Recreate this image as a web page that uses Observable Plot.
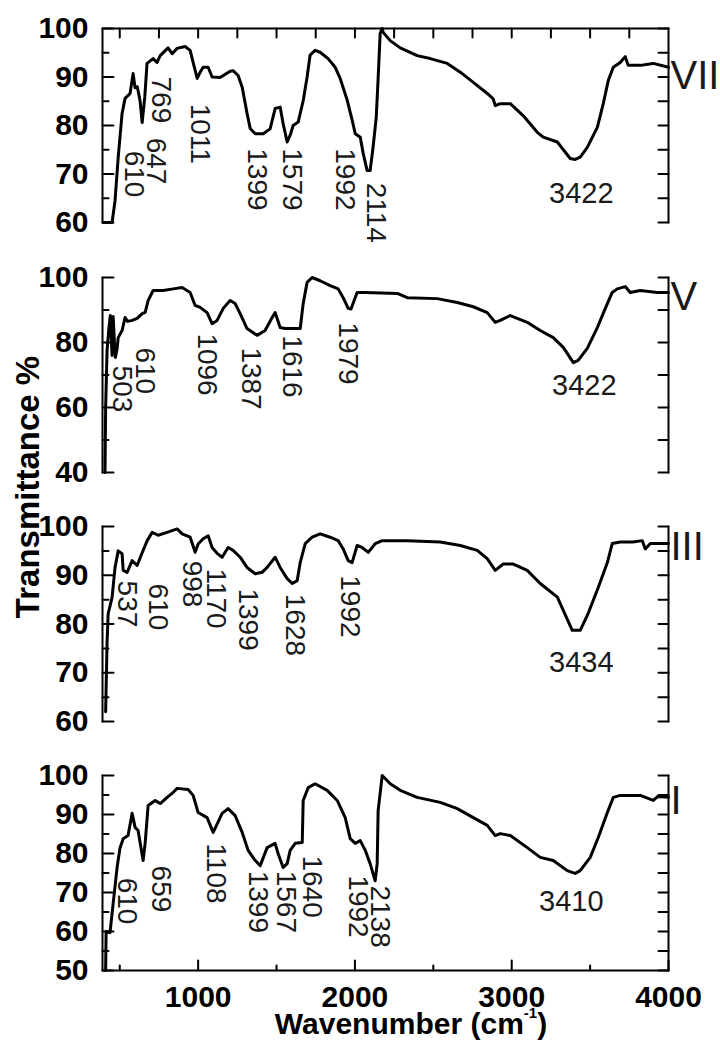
<!DOCTYPE html>
<html><head><meta charset="utf-8">
<script src="https://cdn.jsdelivr.net/npm/d3@7"></script>
<script src="https://cdn.jsdelivr.net/npm/@observablehq/plot@0.6"></script>
<style>
body{margin:0;background:#fff;}
#wrap{position:relative;width:720px;height:1042px;overflow:hidden;font-family:"Liberation Sans",Arial,sans-serif;background:#fff;}
.panel{position:absolute;left:0;}
.panel svg{overflow:visible;}
.lab{position:absolute;white-space:nowrap;font-weight:bold;color:#000;line-height:1;}
#ylab{left:27px;top:487px;transform:translate(-50%,-50%) rotate(-90deg);font-size:33px;}
#xlab{left:411px;top:1024px;transform:translate(-50%,-50%);font-size:30px;}
#xlab sup{font-size:15px;vertical-align:0;position:relative;top:-16px;}
</style></head>
<body>
<div id="wrap"></div>
<script>
// ---------- data ----------
const xDomain = [390, 4000];
const panelNames = ["VII", "V", "III", "I"];
const nameLevels = [90.1, 93.8, 95.7, 93.3];

// spectra: [wavenumber, transmittance %]
const spectrumVII = [[394,60],[451,60],[470,64.5],[490,73.4],[515,82.5],[534,85.6],[566,86.6],[585,90.7],[598,87.8],[612,88],[630,85],[643,80.6],[660,86],[674,92.8],[713,93.8],[738,93],[758,94.4],[808,96],[834,94.8],[866,95.9],[917,96.3],[949,95.5],[968,93],[994,89.7],[1013,91],[1032,92],[1064,92],[1089,90],[1140,89.9],[1204,91.2],[1223,91.3],[1255,90.3],[1281,87.9],[1312,82.5],[1332,79.4],[1364,78.3],[1415,78.3],[1459,79.3],[1491,83.5],[1523,83.8],[1542,80.4],[1568,76.6],[1587,78],[1606,80],[1638,80.7],[1670,85.1],[1695,90],[1714,94.5],[1746,95.5],[1778,95.1],[1829,93.8],[1874,92],[1906,89.7],[1951,85.2],[1983,81],[2002,78.3],[2034,77.6],[2053,74.2],[2078,70.7],[2097,70.7],[2116,75.6],[2136,81.7],[2148,89.7],[2161,99],[2174,100],[2180,99.2],[2225,97.5],[2289,96],[2397,94.4],[2480,93.8],[2589,92.8],[2672,91],[2755,88.9],[2844,86.6],[2882,85.5],[2895,84.1],[2927,84.5],[2991,84.5],[3074,82],[3163,78.6],[3201,77.6],[3291,76.6],[3373,73.2],[3405,73],[3437,73.5],[3482,75.5],[3546,79.6],[3584,84.5],[3616,89.3],[3648,92],[3692,93],[3724,94.2],[3743,92.4],[3820,92.4],[3903,92.8],[4000,92]];

const spectrumV = [[406,40],[410,60],[419,77.5],[430,84],[440,88.3],[451,76],[458,88],[466,80],[472,75.4],[483,78],[490,81.5],[515,83.7],[534,87.7],[550,86.5],[579,86.8],[611,87.4],[643,88.9],[662,89.3],[681,92.9],[713,96],[777,96],[841,96.5],[898,96.9],[949,95.4],[981,91.4],[1013,90.8],[1057,89.2],[1089,85.8],[1121,86.8],[1160,90.5],[1204,92.9],[1236,92],[1268,88.9],[1312,84.3],[1376,82.2],[1427,83.7],[1472,87.7],[1491,89.2],[1523,84.6],[1555,84.3],[1651,84.3],[1670,92],[1695,98.5],[1727,100],[1778,99],[1842,97.5],[1893,96.5],[1925,93.8],[1957,90.5],[1975,90.3],[2014,95.4],[2066,95.4],[2270,95.1],[2334,93.8],[2525,93.5],[2653,92.3],[2755,91],[2844,89.2],[2895,86.2],[2927,86.8],[2991,88.3],[3099,86.2],[3182,83.7],[3265,81.5],[3329,78.5],[3393,73.8],[3424,74.5],[3482,78.2],[3546,84.6],[3597,90.5],[3641,95.4],[3673,96.5],[3724,97.2],[3756,95.4],[3820,96],[3929,95.4],[4000,95.4]];

const spectrumIII = [[410,62],[419,76],[426,82.1],[451,85.4],[470,91.6],[490,95],[515,94.4],[522,91],[547,90.6],[579,93],[611,92],[630,93.6],[675,97.1],[707,98.8],[745,98.2],[802,98.8],[866,99.5],[898,98.5],[949,97.8],[981,94.7],[1000,96.4],[1032,97.5],[1064,98.1],[1089,95.7],[1121,94.5],[1153,93.7],[1191,95.7],[1223,95.1],[1268,93.7],[1312,91.6],[1364,90.3],[1408,90.6],[1440,91.6],[1491,93.7],[1523,91.6],[1568,89.3],[1600,88.3],[1632,88.9],[1651,92.6],[1683,96.5],[1727,97.8],[1778,98.5],[1842,97.8],[1893,97.1],[1925,95.4],[1957,93],[1982,92.6],[2014,96.1],[2046,95.7],[2085,94.7],[2130,96.5],[2174,97.1],[2334,97.1],[2544,96.8],[2672,96.1],[2780,95.1],[2844,93.4],[2895,91],[2946,92.3],[3010,92.3],[3099,91],[3182,88.3],[3291,85.5],[3329,82.8],[3386,78.7],[3437,78.7],[3488,82.2],[3552,87.5],[3610,92.6],[3641,96.5],[3692,96.8],[3775,96.8],[3833,97.1],[3852,95.4],[3884,96.5],[4000,96.5]];

const spectrumI = [[410,50],[413,60],[438,59.7],[458,67.2],[483,76.4],[502,81.5],[522,83.8],[553,84.6],[579,90.3],[598,86.7],[617,85.9],[649,78.2],[662,82.6],[681,92.3],[726,93.6],[758,92.8],[802,94.4],[834,95.4],[866,96.7],[936,96.4],[968,94.9],[1000,90.5],[1057,89.2],[1096,85.4],[1153,90.3],[1191,91.5],[1236,89.7],[1281,85.4],[1319,80.8],[1364,78.2],[1396,76.9],[1440,81.5],[1491,82.6],[1510,80],[1542,76.4],[1568,77.4],[1587,80.8],[1619,82.6],[1664,82.8],[1670,93.6],[1702,96.9],[1746,97.9],[1823,96.2],[1887,93.6],[1938,89.2],[1970,83.8],[2002,82.6],[2034,83.3],[2066,80.8],[2097,77.4],[2129,73],[2142,77.4],[2148,91],[2174,100],[2225,97.9],[2289,96.2],[2397,94.4],[2544,93.1],[2653,91.5],[2755,89.2],[2844,87.2],[2895,84.6],[2927,85.1],[2991,84.6],[3099,81.5],[3182,79],[3265,78.2],[3354,75.6],[3405,74.9],[3437,75.6],[3501,79],[3552,84.1],[3610,90.5],[3648,94.4],[3692,94.9],[3820,94.9],[3903,93.6],[3930,94.6],[4000,94.4]];

// peak annotations (vertical): label, wavenumber position, transmittance where text starts
const peaksVII = {label: ["610","647","769","1011","1399","1579","1992","2114"], x: [592,732,764,1010,1376,1600,1938,2136], y: [74.8,77.5,90.1,84.5,75.3,75.3,75.3,68.2]};
const peaksV   = {label: ["503","610","1096","1387","1616","1979"], x: [512,661,1057,1340,1600,1957], y: [72.9,78.5,82.8,78.5,82.2,86.2]};
const peaksIII = {label: ["537","610","998","1170","1399","1628","1992"], x: [547,745,962,1115,1319,1619,1970], y: [88.9,88.3,93,91.4,87.3,86.2,90]};
const peaksI   = {label: ["610","659","1108","1399","1567","1640","1992","2138"], x: [547,764,1115,1383,1561,1727,2021,2161], y: [73.8,76.9,82.6,75.6,75.6,79.5,74.4,71.8]};
// horizontal O-H band labels
const bandLabel = ["3422", "3422", "3434", "3410"];
const bandX = [3444, 3463, 3444, 3380];
const bandY = [66, 66.8, 72, 67.7];

// axis ticks
const yDomains = [[60,100],[40,100],[60,100],[50,100]];
const yMajor = [[60,70,80,90,100],[40,60,80,100],[60,70,80,90,100],[50,60,70,80,90,100]];
const yMinor = [[65,75,85,95],[50,70,90],[65,75,85,95],[55,65,75,85,95]];
const yRight = [[60,65,70,75,80,85,90,95,100],[40,50,60,70,80,90,100],[60,65,70,75,80,85,90,95,100],[50,55,60,65,70,75,80,85,90,95,100]];
const xMajor = [1000,2000,3000,4000];
const xMinor = [500,1500,2500,3500];
const xTop = [500,750,1000,1250,1500,1750,2000,2250,2500,2750,3000,3250,3500,3750];

// ---------- layout ----------
const spectra = [spectrumVII, spectrumV, spectrumIII, spectrumI];
const peaks = [peaksVII, peaksV, peaksIII, peaksI];
const W = 720, ML = 102, MR = 52;
const svgTop = [0, 250, 500, 750];
const mTop = [28, 27, 26, 25];
const plotH = [194, 195, 195, 195];
const mBottom = [30, 30, 30, 72];
const FONT = "'Liberation Sans', Arial, sans-serif";
const ux = (xDomain[1] - xDomain[0]) / (W - ML - MR); // wavenumber per pixel

const wrap = document.getElementById("wrap");
for (let i = 0; i < 4; i++) {
  const pk = peaks[i];
  const pkData = pk.label.map((l, j) => ({label: l, x: pk.x[j], y: pk.y[j]}));
  const [ylo, yhi] = yDomains[i];
  const uy = (yhi - ylo) / plotH[i]; // % per pixel
  // frame and inward ticks as polyline segments grouped by id
  const segs = [];
  const seg = (id, xa, ya, xb, yb) => segs.push({id, x: xa, y: ya}, {id, x: xb, y: yb});
  seg("left", xDomain[0], ylo, xDomain[0], yhi);
  seg("right", xDomain[1], ylo, xDomain[1], yhi);
  yMajor[i].forEach(v => seg("lM" + v, xDomain[0], v, xDomain[0] + 11 * ux, v));
  yMinor[i].forEach(v => seg("lm" + v, xDomain[0], v, xDomain[0] + 6 * ux, v));
  yRight[i].forEach(v => seg("r" + v, xDomain[1], v, xDomain[1] - 10 * ux, v));
  if (i === 0) {
    seg("top", xDomain[0], yhi, xDomain[1], yhi);
    xTop.forEach(v => seg("t" + v, v, yhi, v, yhi - 9 * uy));
  }
  if (i === 3) {
    seg("bottom", xDomain[0], ylo, xDomain[1], ylo);
    xMajor.forEach(v => seg("bM" + v, v, ylo, v, ylo + 10 * uy));
    xMinor.forEach(v => seg("bm" + v, v, ylo, v, ylo + 5 * uy));
  }
  const marks = [
    Plot.line(spectra[i], {x: d => d[0], y: d => d[1], stroke: "black", strokeWidth: 3, strokeLinejoin: "round"}),
    Plot.line(segs, {x: "x", y: "y", z: "id", stroke: "black", strokeWidth: 2}),
    Plot.axisY({anchor: "left", ticks: yMajor[i], tickSize: 0, tickPadding: 14, fontSize: 30, fontWeight: "bold", label: null, fill: "black"}),
    Plot.text(pkData, {x: "x", y: "y", text: "label", rotate: 90, textAnchor: "start", lineAnchor: "middle", fontSize: 28, fill: "#1a1a1a"}),
    Plot.text([bandLabel[i]], {x: bandX[i], y: bandY[i], text: d => d, textAnchor: "middle", lineAnchor: "middle", fontSize: 29, fill: "#1a1a1a"}),
    Plot.text([panelNames[i]], {x: xDomain[1], y: nameLevels[i], text: d => d, dx: 2, textAnchor: "start", lineAnchor: "middle", fontSize: 40, fill: "#1a1a1a"})
  ];
  if (i === 3) {
    marks.push(Plot.axisX({anchor: "bottom", ticks: xMajor, tickSize: 0, tickPadding: 15, tickFormat: d => String(d), fontSize: 30, fontWeight: "bold", label: null, fill: "black"}));
  }
  const chart = Plot.plot({
    width: W,
    height: mTop[i] + plotH[i] + mBottom[i],
    marginLeft: ML,
    marginRight: MR,
    marginTop: mTop[i],
    marginBottom: mBottom[i],
    x: {domain: xDomain, axis: null},
    y: {domain: yDomains[i], axis: null},
    style: {fontFamily: FONT, background: "transparent", overflow: "visible"},
    marks
  });
  const div = document.createElement("div");
  div.className = "panel";
  div.style.top = svgTop[i] + "px";
  div.appendChild(chart);
  wrap.appendChild(div);
}
const ylab = document.createElement("div");
ylab.className = "lab"; ylab.id = "ylab"; ylab.textContent = "Transmittance %";
wrap.appendChild(ylab);
const xlab = document.createElement("div");
xlab.className = "lab"; xlab.id = "xlab"; xlab.innerHTML = "Wavenumber (cm<sup>-1</sup>)";
wrap.appendChild(xlab);
</script>
</body></html>
